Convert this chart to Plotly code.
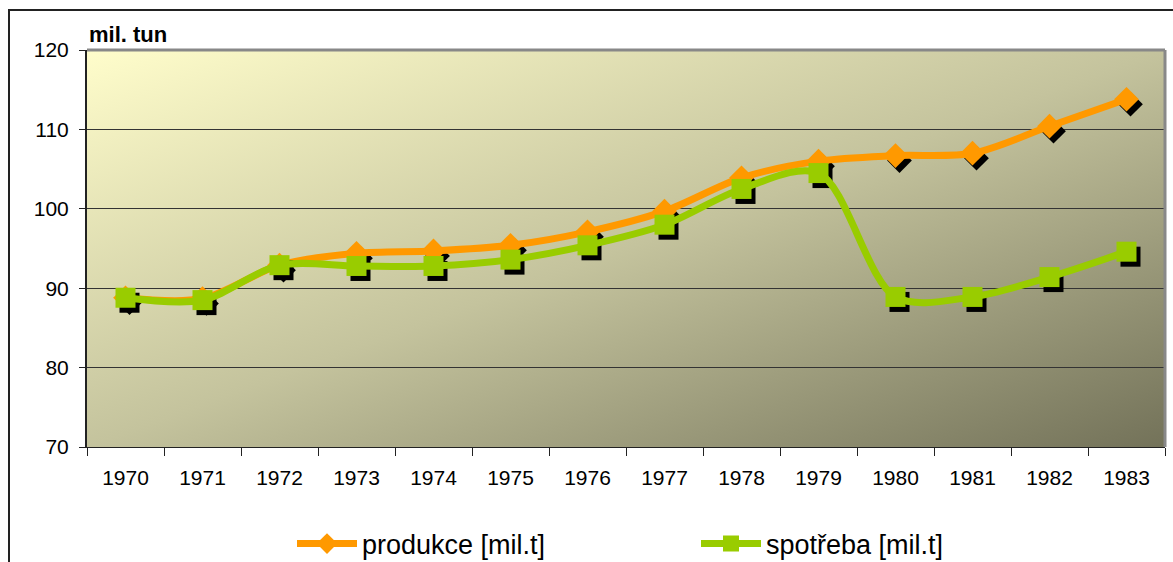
import base64
import plotly.graph_objects as go

years = ["1970", "1971", "1972", "1973", "1974", "1975", "1976",
         "1977", "1978", "1979", "1980", "1981", "1982", "1983"]
produkce = [88.8, 88.7, 92.9, 94.4, 94.7, 95.4, 97.1,
            99.7, 103.9, 106.0, 106.7, 107.0, 110.4, 113.8]
spotreba = [88.8, 88.5, 92.9, 92.8, 92.8, 93.6, 95.4,
            98.0, 102.5, 104.5, 88.9, 88.9, 91.4, 94.6]
y_ticks = [70, 80, 90, 100, 110, 120]

x = list(range(len(years)))

# plot area geometry (px)
L, R, T, B = 87, 1165, 50, 447
W, H = 1173, 562
px_per_cat = (R - L) / len(years)
px_per_unit = (B - T) / (y_ticks[-1] - y_ticks[0])
sdx = 4 / px_per_cat
sdy = -5 / px_per_unit

svg = ('<svg xmlns="http://www.w3.org/2000/svg" width="100" height="100" '
       'preserveAspectRatio="none" viewBox="0 0 100 100">'
       '<defs><linearGradient id="g" x1="0" y1="0" x2="1" y2="1">'
       '<stop offset="0" stop-color="#FFFDCB"/>'
       '<stop offset="0.5" stop-color="#C4C39D"/>'
       '<stop offset="1" stop-color="#737259"/>'
       '</linearGradient></defs>'
       '<rect x="0" y="0" width="100" height="100" fill="url(#g)"/></svg>')
svg_uri = "data:image/svg+xml;base64," + base64.b64encode(svg.encode()).decode()

ORANGE = "#FF9900"
GREEN = "#99CC00"

fig = go.Figure()

# shadows
fig.add_trace(go.Scatter(x=[v + sdx for v in x], y=[v + sdy for v in produkce],
                         mode="markers", showlegend=False, hoverinfo="skip",
                         marker=dict(symbol="diamond", size=19, color="black")))
fig.add_trace(go.Scatter(x=x, y=produkce, mode="lines+markers", name="produkce [mil.t]",
                         line=dict(color=ORANGE, width=7, shape="spline", smoothing=0.9),
                         marker=dict(symbol="diamond", size=19, color=ORANGE)))
fig.add_trace(go.Scatter(x=[v + sdx for v in x], y=[v + sdy for v in spotreba],
                         mode="markers", showlegend=False, hoverinfo="skip",
                         marker=dict(symbol="square", size=20, color="black")))
fig.add_trace(go.Scatter(x=x, y=spotreba, mode="lines+markers", name="spotřeba [mil.t]",
                         line=dict(color=GREEN, width=7, shape="spline", smoothing=0.9),
                         marker=dict(symbol="square", size=20, color=GREEN)))

fig.update_layout(
    width=W, height=H,
    margin=dict(l=L, r=W - R, t=T, b=H - B, autoexpand=False),
    paper_bgcolor="white",
    plot_bgcolor="rgba(0,0,0,0)",
    font=dict(family="Liberation Sans, Arial, sans-serif", size=21, color="black"),
    images=[dict(source=svg_uri, xref="paper", yref="paper", x=0, y=1,
                 sizex=1, sizey=1, sizing="stretch", layer="below",
                 xanchor="left", yanchor="top")],
    xaxis=dict(range=[-0.5, len(years) - 0.5], tickvals=x, ticktext=years,
               ticks="", showgrid=False, zeroline=False,
               showline=True, linecolor="#222", linewidth=1,
               tickfont=dict(size=21), ticklabelstandoff=12,
               minor=dict(tick0=0.5, dtick=1, ticks="outside", ticklen=8,
                          tickcolor="#222", tickwidth=1, showgrid=False)),
    yaxis=dict(range=[y_ticks[0], y_ticks[-1]], tickvals=y_ticks,
               ticks="outside", ticklen=6, tickcolor="#222",
               showgrid=True, gridcolor="#333", gridwidth=1, zeroline=False,
               showline=True, linecolor="#222", linewidth=2,
               tickfont=dict(size=21), ticklabelstandoff=6),
    legend=dict(orientation="h", x=(292 - L) / (R - L), xanchor="left",
                y=(B - 544) / (B - T), yanchor="middle",
                entrywidth=329, entrywidthmode="pixels",
                itemwidth=60, font=dict(size=27), bgcolor="rgba(0,0,0,0)"),
    annotations=[dict(text="<b>mil. tun</b>", xref="paper", yref="paper",
                      x=0, y=1 + (T - 34) / (B - T), xanchor="left", yanchor="middle",
                      showarrow=False, font=dict(size=22))],
    shapes=[
        # plot border top/right (gray)
        dict(type="line", xref="paper", yref="paper", x0=0, x1=1, y0=1, y1=1,
             line=dict(color="#888", width=3)),
        dict(type="line", xref="paper", yref="paper", x0=1, x1=1, y0=0, y1=1,
             line=dict(color="#888", width=3)),
        # outer chart border
        dict(type="rect", xref="paper", yref="paper",
             x0=(9 - L) / (R - L), x1=(W + 20 - L) / (R - L),
             y0=-(H + 20 - B) / (B - T), y1=1 + (T - 10) / (B - T),
             line=dict(color="#222", width=2)),
    ],
)

fig.write_html("out.html", config={"displayModeBar": False},
               post_script="document.body.style.margin='0';")
